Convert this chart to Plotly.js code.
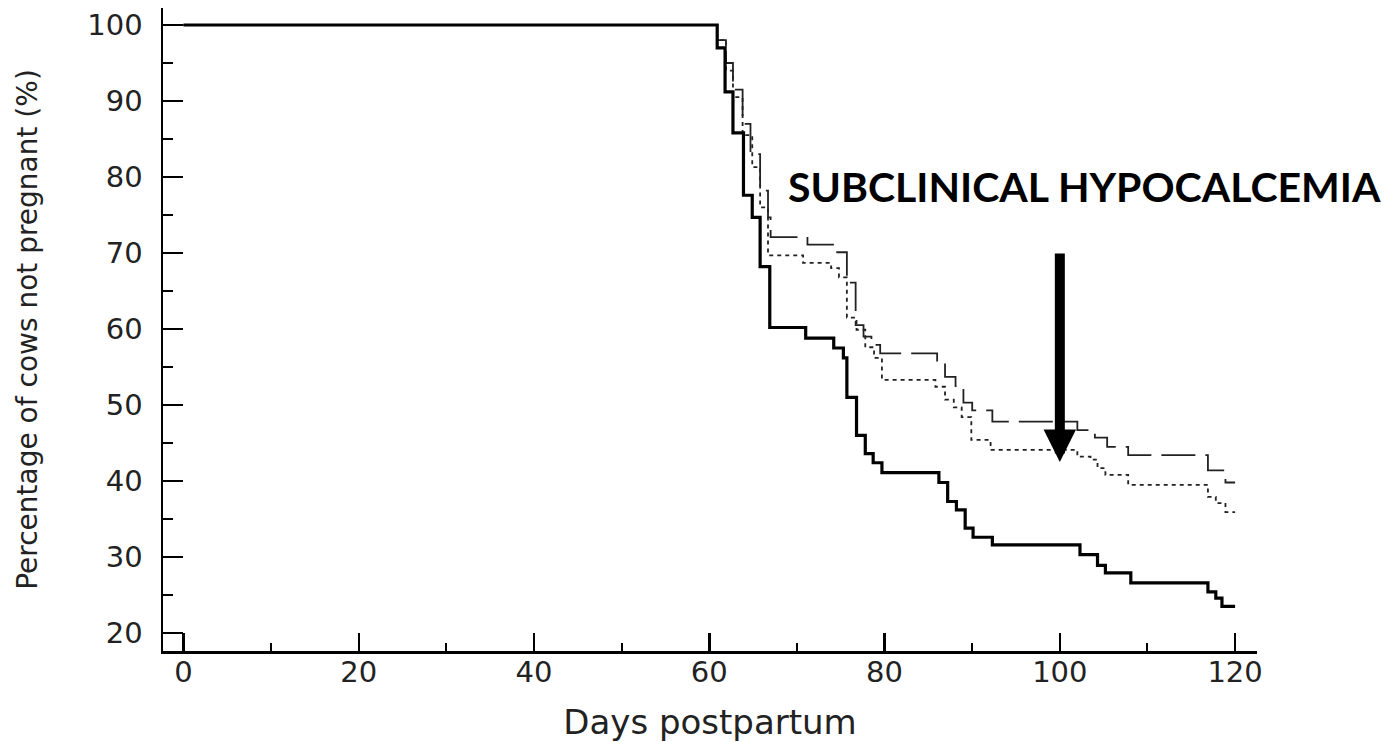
<!DOCTYPE html>
<html><head><meta charset="utf-8">
<script src="https://cdn.plot.ly/plotly-3.0.1.min.js"></script>
<style>html,body{margin:0;padding:0;background:#fff;} #chart{width:1386px;height:742px;}</style>
</head><body><div id="chart"></div>
<script>
// Kaplan-Meier style curves: days postpartum vs % cows not pregnant
const solidDays = [0, 60.9, 61.8, 62.7, 63.9, 64.9, 65.8, 66.9, 71.0, 74.2, 75.3, 75.7, 76.8, 77.8, 78.7, 79.7, 86.2, 87.2, 88.2, 89.2, 90.1, 92.3, 102.3, 104.3, 105.2, 108.1, 116.9, 117.8, 118.5, 120];
const solidPct  = [100, 97.0, 91.2, 85.8, 77.6, 74.7, 68.2, 60.2, 58.8, 57.5, 56.2, 51.0, 46.0, 43.6, 42.4, 41.1, 39.8, 37.3, 36.2, 33.8, 32.6, 31.6, 30.3, 28.9, 27.9, 26.6, 25.4, 24.6, 23.5, 23.5];

const longDashDays = [0, 60.9, 61.9, 62.7, 63.8, 64.7, 65.8, 66.7, 67.0, 71.2, 74.4, 75.7, 76.7, 77.6, 78.5, 79.5, 86.0, 86.9, 88.1, 89.0, 90.0, 92.3, 102.0, 104.0, 105.4, 107.8, 116.9, 118.9, 120];
const longDashPct  = [100, 98.0, 95.0, 91.5, 87.0, 83.0, 78.2, 74.7, 72.1, 71.1, 70.1, 66.1, 60.5, 59.0, 57.9, 56.8, 55.5, 53.7, 52.5, 50.3, 49.3, 47.8, 46.7, 45.7, 44.5, 43.4, 41.4, 39.8, 39.8];

const dottedDays = [0, 60.9, 61.9, 62.7, 63.8, 64.9, 65.8, 66.7, 70.7, 73.9, 74.8, 75.7, 76.8, 77.8, 78.8, 79.7, 85.8, 86.9, 87.9, 88.8, 89.9, 92.1, 102.0, 103.5, 104.3, 105.2, 107.8, 116.9, 117.8, 118.9, 120];
const dottedPct  = [100, 98.0, 94.0, 90.5, 85.5, 81.3, 76.0, 69.7, 68.7, 68.0, 66.8, 61.5, 59.9, 57.6, 56.2, 53.3, 52.4, 50.7, 49.7, 48.4, 45.4, 44.1, 43.2, 42.8, 41.7, 40.8, 39.5, 37.9, 37.1, 35.9, 35.9];

const xTickVals = [0, 20, 40, 60, 80, 100, 120];
const yTickVals = [20, 30, 40, 50, 60, 70, 80, 90, 100];
const arrowDay = 100, arrowPct = 42.5;
const labelText = 'SUBCLINICAL HYPOCALCEMIA';

const traces = [
  {x: longDashDays, y: longDashPct, mode: 'lines', line: {shape: 'hv', color: '#222', width: 1.8, dash: '34px,10px'}},
  {x: dottedDays, y: dottedPct, mode: 'lines', line: {shape: 'hv', color: '#222', width: 1.8, dash: '4px,4px'}},
  {x: solidDays, y: solidPct, mode: 'lines', line: {shape: 'hv', color: '#000', width: 3.2}}
];

const tickFont = {family: 'DejaVu Sans, Liberation Sans, sans-serif', size: 29, color: '#222'};
const layout = {
  width: 1386, height: 742,
  margin: {l: 163, r: 129, t: 8, b: 91},
  paper_bgcolor: '#fff', plot_bgcolor: '#fff',
  showlegend: false,
  xaxis: {
    range: [-2.34, 122.5], showgrid: false, zeroline: false,
    showline: true, linecolor: '#000', linewidth: 2.5,
    tickmode: 'array', tickvals: xTickVals, ticks: 'inside', ticklen: 18, tickwidth: 2.5, tickcolor: '#000',
    minor: {dtick: 10, tick0: 0, ticks: 'inside', ticklen: 8, tickwidth: 2, tickcolor: '#000', showgrid: false},
    tickfont: tickFont, ticklabelstandoff: -6,
    title: {text: 'Days postpartum', font: {family: 'DejaVu Sans, Liberation Sans, sans-serif', size: 34, color: '#222'}, standoff: 22}
  },
  yaxis: {
    range: [17.63, 102.24], showgrid: false, zeroline: false,
    showline: true, linecolor: '#000', linewidth: 2.5,
    tickmode: 'array', tickvals: yTickVals, ticks: 'inside', ticklen: 20, tickwidth: 2.5, tickcolor: '#000',
    minor: {dtick: 5, tick0: 0, ticks: 'inside', ticklen: 10, tickwidth: 2, tickcolor: '#000', showgrid: false},
    tickfont: tickFont, ticklabelstandoff: 12,
    title: {text: 'Percentage of cows not pregnant (%)', font: {family: 'DejaVu Sans, Liberation Sans, sans-serif', size: 28, color: '#222'}, standoff: 42}
  },
  annotations: [
    {xref: 'paper', yref: 'paper', x: 0.842, y: 0.722, xanchor: 'center', yanchor: 'middle', showarrow: false,
     text: '<b>' + labelText + '</b>', font: {family: 'Lato, Open Sans, sans-serif', size: 41, color: '#000'}},
    {xref: 'x', yref: 'y', x: arrowDay, y: arrowPct, text: '', showarrow: true, ax: 0, ay: -210,
     arrowhead: 2, arrowsize: 0.65, arrowwidth: 10, arrowcolor: '#000', standoff: 0}
  ]
};
Plotly.newPlot('chart', traces, layout, {staticPlot: true, displayModeBar: false});
</script>
</body></html>
